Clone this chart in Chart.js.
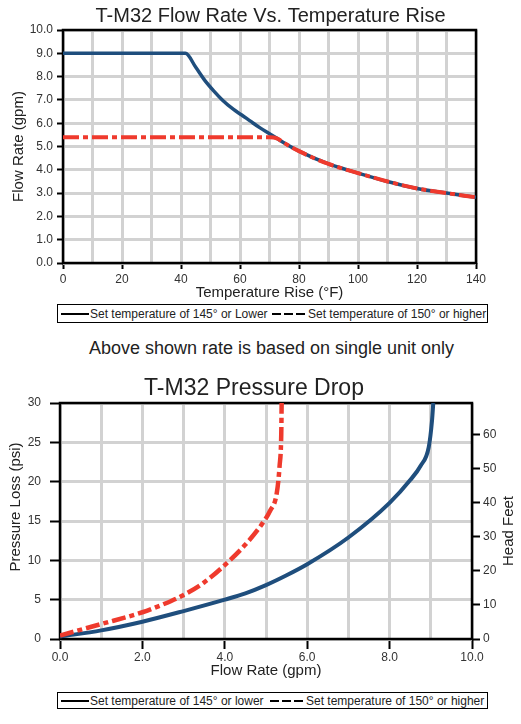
<!DOCTYPE html>
<html>
<head>
<meta charset="utf-8">
<title>T-M32 Flow Rate and Pressure Drop</title>
<script src="https://cdn.jsdelivr.net/npm/chart.js@4.4.1/dist/chart.umd.min.js"></script>
<style>
    html, body {
        margin: 0;
        padding: 0;
        width: 521px;
        height: 724px;
        overflow: hidden;
        background: #fff;
        font-family: 'Liberation Sans', Arial, sans-serif;
        color: #222;
    }
    #flow-chart-canvas { position: absolute; left: 0; top: 0; }
    #pressure-chart-canvas { position: absolute; left: -13px; top: 360px; }
    .legend-box {
        position: absolute;
        left: 57px;
        width: 431px;
        box-sizing: border-box;
        border: 1px solid #000;
        font-size: 12px;
    }
    .legend-item {
        position: absolute;
        top: 0;
        height: 100%;
        display: flex;
        align-items: center;
        white-space: nowrap;
    }
    .legend-item svg { display: block; margin-right: 1px; }
    .note {
        position: absolute;
        left: 0;
        top: 338px;
        width: 543px;
        text-align: center;
        font-size: 18px;
        line-height: 21px;
        white-space: nowrap;
    }
</style>
</head>
<body>
<canvas id="flow-chart-canvas" width="541" height="302"></canvas>

<div class="legend-box" style="top: 304px; height: 19px;">
    <div class="legend-item" style="left: 3px;">
        <svg width="28" height="4"><line x1="0" y1="2" x2="28" y2="2" stroke="#000" stroke-width="2"/></svg>
        <span>Set temperature of 145° or Lower</span>
    </div>
    <div class="legend-item" style="left: 214px;">
        <svg width="35" height="4"><line x1="0" y1="2" x2="35" y2="2" stroke="#000" stroke-width="2" stroke-dasharray="9,3"/></svg>
        <span>Set temperature of 150° or higher</span>
    </div>
</div>

<div class="note">Above shown rate is based on single unit only</div>

<canvas id="pressure-chart-canvas" width="534" height="320"></canvas>

<div class="legend-box" style="top: 692px; height: 17px;">
    <div class="legend-item" style="left: 3px;">
        <svg width="28" height="4"><line x1="0" y1="2" x2="28" y2="2" stroke="#000" stroke-width="2"/></svg>
        <span>Set temperature of 145° or lower</span>
    </div>
    <div class="legend-item" style="left: 212px;">
        <svg width="35" height="4"><line x1="0" y1="2" x2="35" y2="2" stroke="#000" stroke-width="2" stroke-dasharray="9,3"/></svg>
        <span>Set temperature of 150° or higher</span>
    </div>
</div>

<script>
// Flow rate vs temperature rise
const tempRiseLow = [0, 41.5, 45, 48, 51, 54, 57.7, 60.6, 63.4, 66.8, 70, 72.5, 75, 80, 90, 100, 110, 120, 130, 140];
const flowLow = [9.0, 9.0, 8.4, 7.85, 7.4, 7.0, 6.6, 6.35, 6.1, 5.8, 5.55, 5.35, 5.15, 4.8, 4.25, 3.86, 3.5, 3.2, 3.0, 2.82];
const tempRiseHigh = [0, 70, 72.5, 75, 80, 90, 100, 110, 120, 130, 140];
const flowHigh = [5.4, 5.4, 5.35, 5.15, 4.8, 4.25, 3.86, 3.5, 3.2, 3.0, 2.82];

// Pressure drop vs flow rate
const flowRateLow = [0, 1, 2, 3, 4, 4.5, 5, 5.5, 6, 7, 8, 8.5, 8.75, 8.95, 9.03, 9.06];
const pressureLow = [0.3, 1.1, 2.2, 3.55, 5.0, 5.8, 6.85, 8.1, 9.5, 12.9, 17.3, 20.2, 22.0, 24.4, 27.8, 30];
const flowRateHigh = [0, 1, 2, 2.5, 3, 3.5, 4, 4.5, 4.9, 5.1, 5.26, 5.33, 5.37, 5.38];
const pressureHigh = [0.45, 1.9, 3.4, 4.4, 5.6, 7.2, 9.4, 12.0, 14.6, 16.3, 18.5, 22.0, 26.0, 30];

// 1 psi of loss is 2.31 feet of head
const feetPerPsi = 2.31;

const seriesNames = ['Set temperature of 145° or Lower', 'Set temperature of 150° or higher'];

const blue = '#1f4e7d';
const red = '#ef3a2d';
const gridGray = '#d2d2d2';
const textColor = '#222';

Chart.defaults.font.family = "'Liberation Sans', Arial, sans-serif";
Chart.defaults.color = textColor;

// Helper to zip two arrays into {x, y} points
function toPoints(xs, ys) {
    return xs.map((x, i) => ({ x: x, y: ys[i] }));
}

// Black box round the plot area
const framePlugin = {
    id: 'frame',
    beforeDatasetsDraw(chart, args, opts) {
        const { ctx, chartArea: a } = chart;
        ctx.save();
        ctx.strokeStyle = '#000';
        ctx.lineWidth = opts.width || 2.5;
        ctx.strokeRect(a.left, a.top, a.right - a.left, a.bottom - a.top);
        ctx.restore();
    }
};

// Vertical axis titles that read bottom to top on both sides
const sideTitlesPlugin = {
    id: 'sideTitles',
    afterDraw(chart, args, opts) {
        const ctx = chart.ctx;
        (opts.items || []).forEach(item => {
            ctx.save();
            ctx.translate(item.x, item.y);
            ctx.rotate(-Math.PI / 2);
            ctx.font = "15px 'Liberation Sans', Arial, sans-serif";
            ctx.fillStyle = textColor;
            ctx.textAlign = 'center';
            ctx.textBaseline = 'middle';
            ctx.fillText(item.text, 0, 0);
            ctx.restore();
        });
    }
};

function renderFlowChart() {
    const ctx = document.getElementById('flow-chart-canvas').getContext('2d');
    new Chart(ctx, {
        type: 'line',
        data: {
            datasets: [
                {
                    label: seriesNames[0],
                    data: toPoints(tempRiseLow, flowLow),
                    borderColor: blue,
                    borderWidth: 3.5,
                    pointRadius: 0,
                    cubicInterpolationMode: 'monotone',
                    order: 1
                },
                {
                    label: seriesNames[1],
                    data: toPoints(tempRiseHigh, flowHigh),
                    borderColor: red,
                    borderWidth: 4,
                    borderDash: [16, 4, 5, 4],
                    pointRadius: 0,
                    cubicInterpolationMode: 'monotone',
                    order: 0
                }
            ]
        },
        options: {
            responsive: false,
            animation: false,
            layout: { padding: 0 },
            plugins: {
                legend: { display: false },
                tooltip: { enabled: false },
                title: {
                    display: true,
                    text: 'T-M32 Flow Rate Vs. Temperature Rise',
                    color: textColor,
                    font: { size: 20, weight: 'normal' },
                    padding: { top: 4, bottom: 2 }
                },
                frame: { width: 2.5 }
            },
            scales: {
                x: {
                    type: 'linear',
                    min: 0,
                    max: 140,
                    afterFit: scale => { scale.height = 39; },
                    ticks: {
                        stepSize: 10,
                        padding: 3,
                        color: '#333',
                        font: { size: 12 },
                        maxRotation: 0,
                        autoSkip: false,
                        callback: value => (value % 20 === 0 ? value : '')
                    },
                    grid: {
                        color: gridGray,
                        lineWidth: 3,
                        tickLength: 6,
                        tickWidth: 2,
                        tickColor: c => (c.tick && c.tick.value % 20 === 0 ? '#000' : 'rgba(0,0,0,0)')
                    },
                    border: { display: false },
                    title: {
                        display: true,
                        text: 'Temperature Rise (°F)',
                        color: textColor,
                        font: { size: 15 },
                        padding: { top: 0, bottom: 0 }
                    }
                },
                y: {
                    min: 0,
                    max: 10,
                    afterFit: scale => { scale.width = 63; },
                    ticks: {
                        stepSize: 1,
                        padding: 4,
                        color: '#333',
                        font: { size: 12 },
                        callback: value => value.toFixed(1)
                    },
                    grid: {
                        color: gridGray,
                        lineWidth: 3,
                        tickLength: 6,
                        tickWidth: 2,
                        tickColor: '#000'
                    },
                    border: { display: false },
                    title: {
                        display: true,
                        text: 'Flow Rate (gpm)',
                        color: textColor,
                        font: { size: 15 },
                        padding: { top: 10, bottom: 0 }
                    }
                },
                // empty right-hand band so the title centres like the original
                spacer: {
                    position: 'right',
                    min: 0,
                    max: 10,
                    afterFit: scale => { scale.width = 65; },
                    ticks: { display: false },
                    grid: { display: false },
                    border: { display: false }
                }
            }
        },
        plugins: [framePlugin]
    });
}

function renderPressureChart() {
    const ctx = document.getElementById('pressure-chart-canvas').getContext('2d');
    new Chart(ctx, {
        type: 'line',
        data: {
            datasets: [
                {
                    label: seriesNames[0],
                    data: toPoints(flowRateLow, pressureLow),
                    borderColor: blue,
                    borderWidth: 4,
                    pointRadius: 0,
                    cubicInterpolationMode: 'monotone',
                    order: 1
                },
                {
                    label: seriesNames[1],
                    data: toPoints(flowRateHigh, pressureHigh),
                    borderColor: red,
                    borderWidth: 4.5,
                    borderDash: [14, 4, 5, 4],
                    pointRadius: 0,
                    cubicInterpolationMode: 'monotone',
                    order: 0
                }
            ]
        },
        options: {
            responsive: false,
            animation: false,
            layout: { padding: 0 },
            plugins: {
                legend: { display: false },
                tooltip: { enabled: false },
                title: {
                    display: true,
                    text: 'T-M32 Pressure Drop',
                    color: textColor,
                    font: { size: 23, weight: 'normal' },
                    padding: { top: 15, bottom: 0.4 }
                },
                frame: { width: 2.5 },
                sideTitles: {
                    items: [
                        { text: 'Pressure Loss (psi)', x: 29, y: 147 },
                        { text: 'Head Feet', x: 522, y: 171 }
                    ]
                }
            },
            scales: {
                x: {
                    type: 'linear',
                    min: 0,
                    max: 10,
                    afterFit: scale => { scale.height = 41; },
                    ticks: {
                        stepSize: 1,
                        padding: 1,
                        color: '#333',
                        font: { size: 12 },
                        maxRotation: 0,
                        autoSkip: false,
                        callback: value => (value % 2 === 0 ? value.toFixed(1) : '')
                    },
                    grid: {
                        color: gridGray,
                        lineWidth: 3,
                        tickLength: 10,
                        tickWidth: 2,
                        tickColor: c => (c.tick && c.tick.value % 2 === 0 ? '#000' : 'rgba(0,0,0,0)')
                    },
                    border: { display: false },
                    title: {
                        display: true,
                        text: 'Flow Rate (gpm)',
                        color: textColor,
                        font: { size: 15 },
                        padding: { top: 0, bottom: 0 }
                    }
                },
                y: {
                    min: 0,
                    max: 30,
                    afterFit: scale => { scale.width = 73; },
                    ticks: {
                        stepSize: 5,
                        padding: 9,
                        color: '#333',
                        font: { size: 12 }
                    },
                    grid: {
                        color: gridGray,
                        lineWidth: 3,
                        tickLength: 10,
                        tickWidth: 2,
                        tickColor: '#000'
                    },
                    border: { display: false }
                },
                y2: {
                    position: 'right',
                    min: 0,
                    max: 30 * feetPerPsi,
                    afterFit: scale => { scale.width = 49; },
                    ticks: {
                        stepSize: 10,
                        padding: 3,
                        includeBounds: false,
                        color: '#333',
                        font: { size: 12 }
                    },
                    grid: {
                        drawOnChartArea: false,
                        tickLength: 8,
                        tickWidth: 2,
                        tickColor: '#000'
                    },
                    border: { display: false }
                }
            }
        },
        plugins: [framePlugin, sideTitlesPlugin]
    });
}

document.addEventListener('DOMContentLoaded', () => {
    renderFlowChart();
    renderPressureChart();
});
</script>
</body>
</html>
